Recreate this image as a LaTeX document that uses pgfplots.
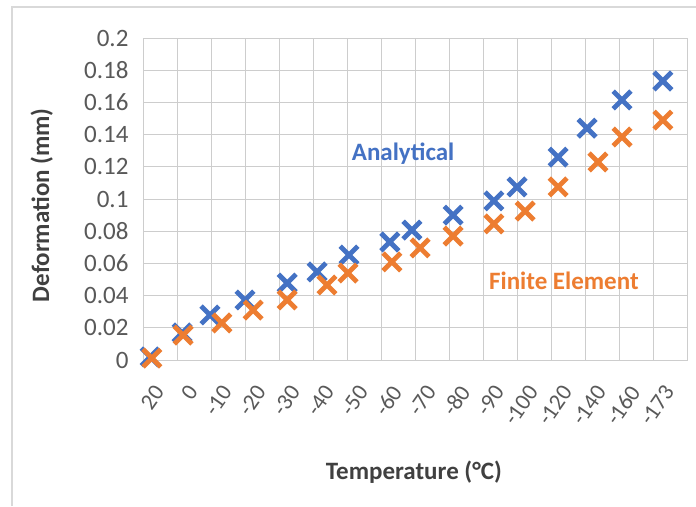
\documentclass[border=0pt]{standalone}
\usepackage{fontspec}
\setmainfont{Carlito}
\usepackage{pgfplots}
\pgfplotsset{compat=1.18}
\definecolor{anblue}{RGB}{68,114,196}
\definecolor{feorange}{RGB}{237,125,49}
\definecolor{gridgray}{RGB}{205,205,205}
\definecolor{ticktext}{RGB}{89,89,89}
\definecolor{titletext}{RGB}{64,64,64}
\begin{document}
\begin{tikzpicture}[x=1pt,y=1pt]
\useasboundingbox (0,0) rectangle (696,506);
\fill[white] (0,0) rectangle (696,506);
\draw[gray!30, line width=1.2pt] (12,0) -- (12,499) -- (696,499);
\begin{axis}[
  at={(143pt,146pt)}, anchor=south west,
  scale only axis, width=544pt, height=322pt,
  xmin=0, xmax=16, ymin=0, ymax=0.2,
  xtick={0.5,1.5,2.5,3.5,4.5,5.5,6.5,7.5,8.5,9.5,10.5,11.5,12.5,13.5,14.5,15.5},
  xticklabels={20,0,-10,-20,-30,-40,-50,-60,-70,-80,-90,-100,-120,-140,-160,-173},
  minor xtick={0,1,2,3,4,5,6,7,8,9,10,11,12,13,14,15,16},
  ytick={0,0.02,0.04,0.06,0.08,0.1,0.12,0.14,0.16,0.18,0.2},
  yticklabels={0,0.02,0.04,0.06,0.08,0.1,0.12,0.14,0.16,0.18,0.2},
  xmajorgrids=false, xminorgrids=true, ymajorgrids=true,
  grid style={gridgray, line width=0.9pt},
  minor grid style={gridgray, line width=0.9pt},
  major tick length=0pt, minor tick length=0pt,
  axis line style={gridgray, line width=0.9pt},
  xticklabel style={xshift=-1pt, yshift=-28pt, rotate=55, anchor=east, inner sep=0pt, font=\fontsize{23}{26}\selectfont, text=ticktext},
  yticklabel style={font=\fontsize{25}{30}\selectfont, text=ticktext, xshift=-11pt},
  xlabel={\textbf{Temperature (°C)}},
  ylabel={\textbf{Deformation (mm)}},
  xlabel style={at={(axis description cs:0.498,-0.348)}, anchor=center, font=\fontsize{25}{30}\selectfont, text=titletext},
  ylabel style={at={(axis description cs:-0.186,0.481)}, anchor=center, rotate=0, font=\fontsize{25}{30}\selectfont, text=titletext},
  clip=true,
]
\addplot[only marks, mark=x, mark size=12.5pt, mark options={line width=4.8pt, anblue}] coordinates {
(0.21,0.0019) (1.15,0.0168) (1.97,0.028) (3.0,0.0373) (4.24,0.0478) (5.12,0.0547) (6.06,0.0652) (7.26,0.0733) (7.91,0.0807) (9.12,0.090) (10.32,0.0988) (11.0,0.1075) (12.21,0.126) (13.06,0.144) (14.09,0.1615) (15.29,0.1733)
};
\addplot[only marks, mark=x, mark size=12.5pt, mark options={line width=4.8pt, feorange}] coordinates {
(0.26,0.0012) (1.18,0.0155) (2.32,0.023) (3.24,0.031) (4.24,0.0373) (5.41,0.0466) (6.03,0.054) (7.32,0.0609) (8.15,0.0696) (9.12,0.077) (10.32,0.0845) (11.24,0.0925) (12.21,0.1075) (13.38,0.123) (14.09,0.1385) (15.29,0.149)
};
\node[anblue, font=\fontsize{25}{30}\selectfont\bfseries] at (axis cs:7.65,0.128) {Analytical};
\node[feorange, font=\fontsize{25}{30}\selectfont\bfseries] at (axis cs:12.38,0.049) {Finite Element};
\end{axis}
\end{tikzpicture}
\end{document}
